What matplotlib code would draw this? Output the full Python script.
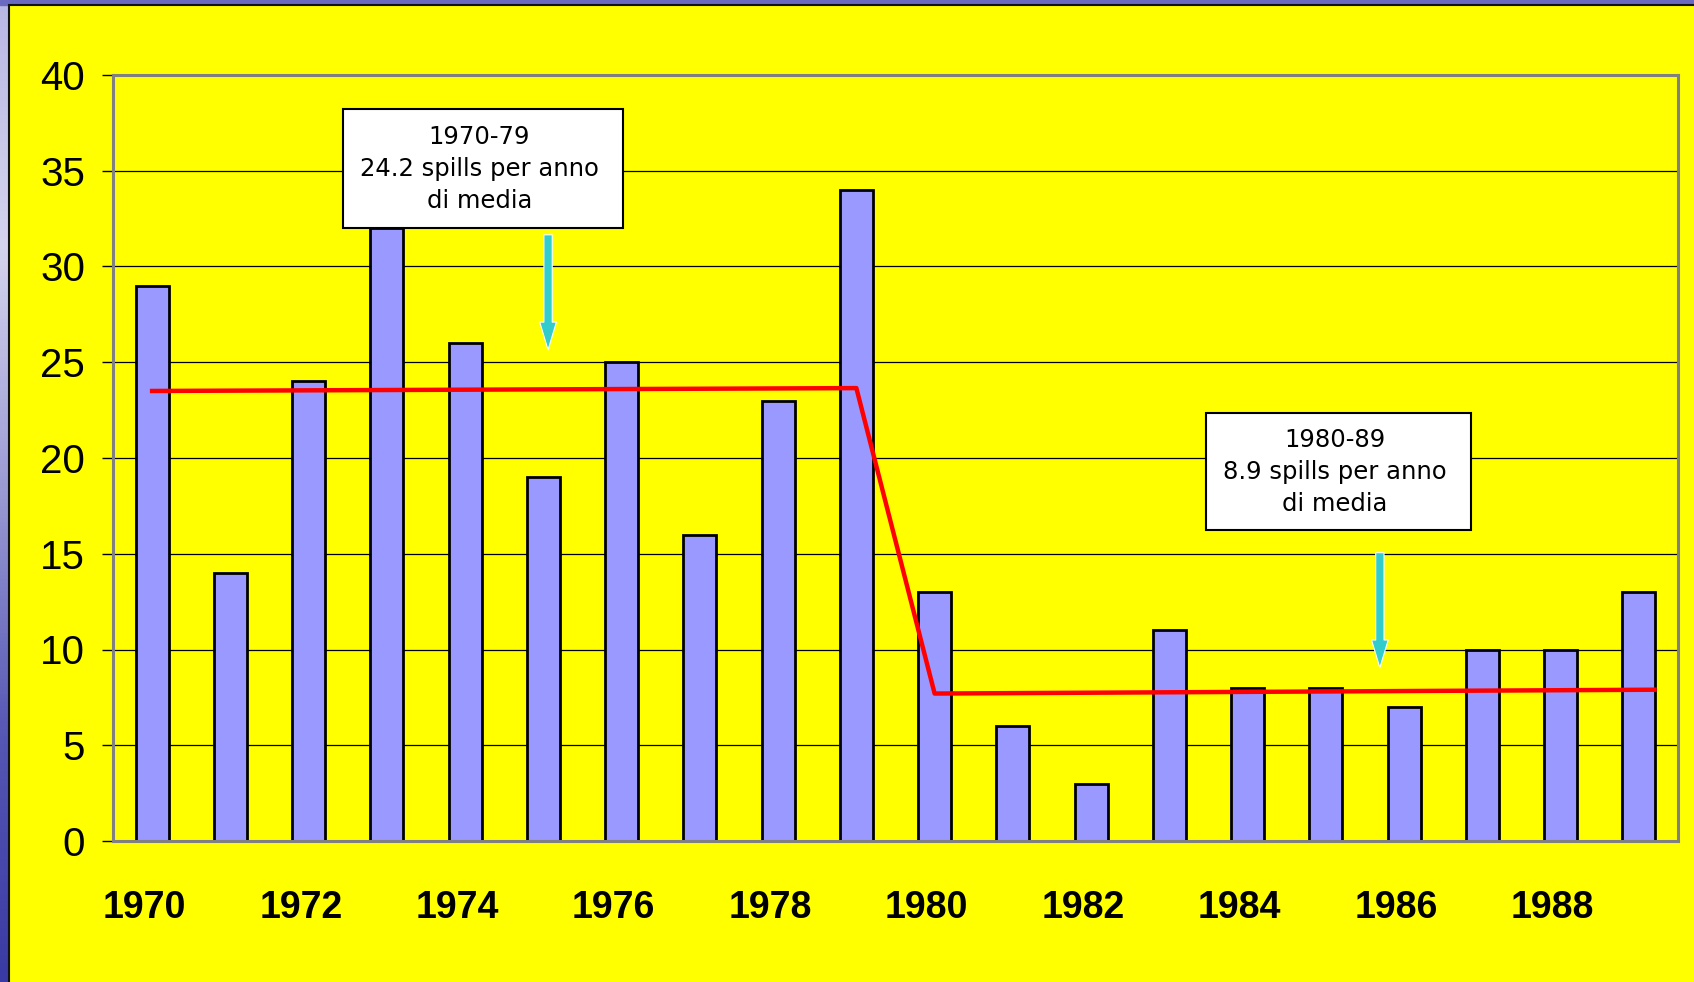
import numpy as np
import matplotlib.pyplot as plt
from matplotlib.colors import LinearSegmentedColormap
from matplotlib.patches import Rectangle

# oil spills per year, 1970-1989
years = np.arange(1970, 1990)
spills = [29, 14, 24, 32, 26, 19, 25, 16, 23, 34,
          13, 6, 3, 11, 8, 8, 7, 10, 10, 13]
tick_years = years[::2]

# red trend line through the two decades
trend_x = [1970, 1979, 1980, 1989.2]
trend_y = [23.5, 23.65, 7.7, 7.9]

note_70s = "1970-79\n24.2 spills per anno\ndi media"
note_80s = "1980-89\n8.9 spills per anno\ndi media"

label_font = ['Liberation Sans', 'DejaVu Sans']
box_font = ['DejaVu Sans Condensed', 'DejaVu Sans']

fig = plt.figure(figsize=(16.94, 9.82), dpi=100)

# slide background: blue gradient frame with the yellow panel on top
bg = fig.add_axes([0, 0, 1, 1])
blues = LinearSegmentedColormap.from_list(
    'slide', ['#b8b8e4', '#d4d4ee', '#9a9ad4', '#5656b4', '#3a3aa4'])
bg.imshow(np.linspace(0, 1, 256).reshape(-1, 1), aspect='auto', cmap=blues,
          extent=[0, 1, 0, 1])
bg.add_patch(Rectangle((0, 1 - 5 / 982), 1, 5 / 982, color='#6a6ac0'))
bg.add_patch(Rectangle((9 / 1694, -0.01), 1, 1 - 5 / 982 + 0.01,
                       facecolor='#ffff00', edgecolor='#111111', lw=1.5))
bg.set_xlim(0, 1)
bg.set_ylim(0, 1)
bg.axis('off')

ax = fig.add_axes([113 / 1694, 141 / 982, 1565 / 1694, 766 / 982])
ax.set_facecolor('#ffff00')

ax.bar(years, spills, width=0.42, color='#9999ff', edgecolor='black',
       linewidth=2, zorder=3)
ax.plot(trend_x, trend_y, color='#ff0000', lw=3.2, zorder=4)

ax.set_xlim(1969.5, 1989.5)
ax.set_ylim(0, 40)
ax.set_yticks(range(0, 41, 5))
ax.set_xticks(tick_years - 0.1)
ax.set_xticklabels([str(y) for y in tick_years], family=label_font,
                   fontsize=27, fontweight='bold')
for lbl in ax.get_yticklabels():
    lbl.set_family(label_font)
    lbl.set_fontsize(29)

ax.grid(axis='y', color='black', lw=0.9, zorder=1)
ax.tick_params(axis='y', length=8, width=1, pad=12, direction='out')
ax.tick_params(axis='x', length=0, pad=35)
for s in ax.spines.values():
    s.set_color('#808080')
    s.set_linewidth(2.2)
    s.set_zorder(5)

# note boxes with their arrows
boxes = [(1972.44, 32.0, 3.58, 6.2, note_70s, 1975.06, 31.8, 25.5),
         (1983.47, 16.24, 3.38, 6.1, note_80s, 1985.69, 15.2, 8.9)]
for x0, y0, w, h, txt, ax_x, ay0, ay1 in boxes:
    ax.add_patch(Rectangle((x0, y0), w, h, facecolor='white',
                           edgecolor='black', lw=1.5, zorder=6))
    ax.text(x0 + w / 2 - 0.05, y0 + h / 2, txt, ha='center', va='center',
            family=box_font, fontsize=17.5, linespacing=1.42, zorder=7)
    ax.annotate('', xy=(ax_x, ay1), xytext=(ax_x, ay0),
                arrowprops=dict(arrowstyle='simple,head_width=1.2,head_length=2.0,tail_width=0.6',
                                mutation_scale=10, facecolor='#33cccc',
                                edgecolor='white', lw=0.8),
                zorder=6)

fig.savefig('out.png', dpi=100)
